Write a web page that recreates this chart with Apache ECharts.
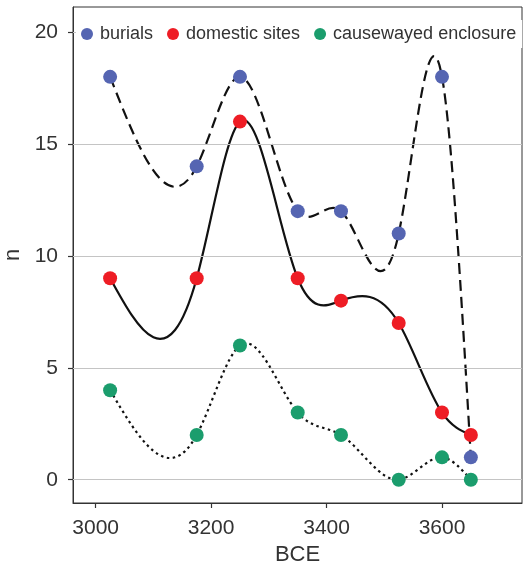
<!DOCTYPE html>
<html>
<head>
<meta charset="utf-8">
<script src="https://cdn.jsdelivr.net/npm/echarts@6/dist/echarts.min.js"></script>
<style>
  html, body { margin: 0; padding: 0; background: #fff; }
  #chart { width: 523px; height: 566px; }
</style>
</head>
<body>
<div id="chart"></div>
<script>
// data
var years = [3025, 3175, 3250, 3350, 3425, 3525, 3600, 3650];
var burials = [18, 14, 18, 12, 12, 11, 18, 1];
var domestic = [9, 9, 16, 9, 8, 7, 3, 2];
var causewayed = [4, 2, 6, 3, 2, 0, 1, 0];
var seriesNames = ['burials', 'domestic sites', 'causewayed enclosure'];
var xTicks = [3000, 3200, 3400, 3600];
var yTicks = [0, 5, 10, 15, 20];

var colors = ['#5565b2', '#ee1d25', '#1b9d6d'];
var txt = '#333333';
var font = 'Liberation Sans';

/*
* natural cubic spline through the points, drawn as bezier segments
*/
function splineSlopes(xs, ys) {
	var n = xs.length, h = [], M = [], i;
	for (i = 0; i < n - 1; i++) h.push(xs[i + 1] - xs[i]);
	// tridiagonal system for second derivatives
	var a = [], b = [], c = [], d = [];
	for (i = 1; i < n - 1; i++) {
		a.push(h[i - 1]);
		b.push(2 * (h[i - 1] + h[i]));
		c.push(h[i]);
		d.push(6 * ((ys[i + 1] - ys[i]) / h[i] - (ys[i] - ys[i - 1]) / h[i - 1]));
	}
	var m = b.length;
	for (i = 1; i < m; i++) {
		var w = a[i] / b[i - 1];
		b[i] -= w * c[i - 1];
		d[i] -= w * d[i - 1];
	}
	var sol = new Array(m);
	for (i = m - 1; i >= 0; i--) {
		sol[i] = (d[i] - (i < m - 1 ? c[i] * sol[i + 1] : 0)) / b[i];
	}
	M.push(0);
	for (i = 0; i < m; i++) M.push(sol[i]);
	M.push(0);
	return { h: h, M: M };
}

function makeRender(ys, dash) {
	return function (params, api) {
		var xs = years;
		var s = splineSlopes(xs, ys);
		var p0 = api.coord([xs[0], ys[0]]);
		var path = 'M' + p0[0] + ' ' + p0[1];
		for (var i = 0; i < xs.length - 1; i++) {
			var h = s.h[i];
			var sl = (ys[i + 1] - ys[i]) / h;
			var s0 = sl - h * (2 * s.M[i] + s.M[i + 1]) / 6;
			var s1 = sl + h * (s.M[i] + 2 * s.M[i + 1]) / 6;
			var c1 = api.coord([xs[i] + h / 3, ys[i] + s0 * h / 3]);
			var c2 = api.coord([xs[i + 1] - h / 3, ys[i + 1] - s1 * h / 3]);
			var p = api.coord([xs[i + 1], ys[i + 1]]);
			path += ' C' + c1[0] + ' ' + c1[1] + ' ' + c2[0] + ' ' + c2[1] + ' ' + p[0] + ' ' + p[1];
		}
		return {
			type: 'path',
			shape: { pathData: path },
			style: {
				fill: 'none',
				stroke: '#111',
				lineWidth: 2.2,
				lineDash: dash,
				lineCap: 'butt'
			}
		};
	};
}

function pairs(ys) {
	var out = [];
	for (var i = 0; i < years.length; i++) out.push([years[i], ys[i]]);
	return out;
}

function curve(ys, dash) {
	return {
		type: 'custom',
		coordinateSystem: 'cartesian2d',
		renderItem: makeRender(ys, dash),
		data: [[years[0], ys[0]]],
		silent: true,
		z: 3
	};
}

function dots(name, ys, color) {
	return {
		name: name,
		type: 'scatter',
		data: pairs(ys),
		symbolSize: 14,
		itemStyle: { color: color, opacity: 1 },
		z: 5
	};
}

var gridLines = [];
for (var k = 0; k < yTicks.length; k++) gridLines.push({ yAxis: yTicks[k] });

function plain(v) { return String(v); }

var option = {
	backgroundColor: '#fff',
	animation: false,
	grid: {
		left: 73, top: 7, width: 449, height: 496,
		containLabel: false,
		outerBoundsMode: 'none',
		show: true, borderColor: '#333', borderWidth: 1
	},
	legend: {
		data: seriesNames,
		left: 76, top: 20,
		padding: [5, 6, 5, 5],
		backgroundColor: '#fff',
		itemWidth: 12, itemHeight: 12,
		itemGap: 14,
		icon: 'circle',
		textStyle: { fontSize: 18, color: txt, fontFamily: font, padding: [0, 0, 0, 2] },
		z: 10
	},
	xAxis: {
		type: 'value',
		min: 2960.7, max: 3738.6,
		name: 'BCE',
		nameLocation: 'middle',
		nameGap: 41,
		nameTextStyle: { fontSize: 22, color: txt, fontFamily: font },
		axisLine: { show: true, onZero: false, lineStyle: { color: '#333' } },
		axisTick: { show: true, inside: false, customValues: xTicks, length: 5, lineStyle: { color: '#333', width: 1.2 } },
		axisLabel: { customValues: xTicks, formatter: plain, fontSize: 21, color: txt, fontFamily: font, margin: 15 },
		splitLine: { show: false }
	},
	yAxis: {
		type: 'value',
		min: -1.04, max: 21.12,
		name: 'n',
		nameLocation: 'middle',
		nameGap: 49,
		nameTextStyle: { fontSize: 22, color: txt, fontFamily: font },
		axisLine: { show: true, onZero: false, lineStyle: { color: '#333' } },
		axisTick: { show: true, inside: false, customValues: yTicks, length: 5, lineStyle: { color: '#333', width: 1.2 } },
		axisLabel: { customValues: yTicks, formatter: plain, fontSize: 21, color: txt, fontFamily: font, margin: 15 },
		splitLine: { show: false }
	},
	series: [
		{
			type: 'line',
			data: [],
			silent: true,
			z: 1,
			markLine: {
				silent: true,
				symbol: 'none',
				label: { show: false },
				lineStyle: { color: '#c4c4c4', width: 1, type: 'solid' },
				data: gridLines
			}
		},
		curve(burials, [11, 6]),
		curve(domestic, null),
		curve(causewayed, [2.5, 3.5]),
		dots(seriesNames[0], burials, colors[0]),
		dots(seriesNames[1], domestic, colors[1]),
		dots(seriesNames[2], causewayed, colors[2])
	]
};

var chart = echarts.init(document.getElementById('chart'), null, { renderer: 'canvas' });
chart.setOption(option);
</script>
</body>
</html>
